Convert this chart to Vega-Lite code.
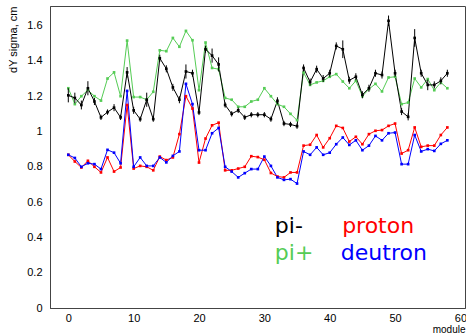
{
  "$schema": "https://vega.github.io/schema/vega-lite/v6.json",
  "width": 415,
  "height": 302,
  "autosize": "none",
  "padding": {"left": 50, "top": 6, "right": 1, "bottom": 27},
  "background": "white",
  "config": {
    "view": {"stroke": "#444", "strokeWidth": 1},
    "font": "Liberation Sans",
    "axis": {"grid": false, "domainColor": "#444", "tickColor": "#444", "labelColor": "#000", "titleColor": "#000", "labelFont": "Liberation Sans", "titleFont": "Liberation Sans", "labelFontSize": 11, "titleFontSize": 11, "titleFontWeight": "normal", "labelOverlap": false, "labelFlush": false}
  },
  "datasets": {
    "labels": [
      {"label": "pi-", "module": 31.6, "value": 0.423, "series": "pi-"},
      {"label": "pi+", "module": 31.6, "value": 0.272, "series": "pi+"},
      {"label": "proton", "module": 41.9, "value": 0.423, "series": "proton"},
      {"label": "deutron", "module": 41.7, "value": 0.272, "series": "deutron"}
    ],
    "pts": [
      {"series":"pi+","module":0,"value":1.245,"err":0.01},
      {"series":"pi+","module":1,"value":1.155,"err":0.01},
      {"series":"pi+","module":2,"value":1.2,"err":0.01},
      {"series":"pi+","module":3,"value":1.235,"err":0.01},
      {"series":"pi+","module":4,"value":1.2,"err":0.01},
      {"series":"pi+","module":5,"value":1.175,"err":0.01},
      {"series":"pi+","module":6,"value":1.3,"err":0.01},
      {"series":"pi+","module":7,"value":1.335,"err":0.01},
      {"series":"pi+","module":8,"value":1.2,"err":0.01},
      {"series":"pi+","module":9,"value":1.515,"err":0.01},
      {"series":"pi+","module":10,"value":1.195,"err":0.01},
      {"series":"pi+","module":11,"value":1.195,"err":0.01},
      {"series":"pi+","module":12,"value":1.18,"err":0.01},
      {"series":"pi+","module":13,"value":1.225,"err":0.01},
      {"series":"pi+","module":14,"value":1.46,"err":0.01},
      {"series":"pi+","module":15,"value":1.455,"err":0.01},
      {"series":"pi+","module":16,"value":1.53,"err":0.01},
      {"series":"pi+","module":17,"value":1.48,"err":0.01},
      {"series":"pi+","module":18,"value":1.57,"err":0.01},
      {"series":"pi+","module":19,"value":1.517,"err":0.01},
      {"series":"pi+","module":20,"value":1.234,"err":0.01},
      {"series":"pi+","module":21,"value":1.504,"err":0.01},
      {"series":"pi+","module":22,"value":1.36,"err":0.01},
      {"series":"pi+","module":23,"value":1.353,"err":0.01},
      {"series":"pi+","module":24,"value":1.19,"err":0.01},
      {"series":"pi+","module":25,"value":1.18,"err":0.01},
      {"series":"pi+","module":26,"value":1.14,"err":0.01},
      {"series":"pi+","module":27,"value":1.14,"err":0.01},
      {"series":"pi+","module":28,"value":1.17,"err":0.01},
      {"series":"pi+","module":29,"value":1.18,"err":0.01},
      {"series":"pi+","module":30,"value":1.245,"err":0.01},
      {"series":"pi+","module":31,"value":1.2,"err":0.01},
      {"series":"pi+","module":32,"value":1.155,"err":0.01},
      {"series":"pi+","module":33,"value":1.14,"err":0.01},
      {"series":"pi+","module":34,"value":1.1,"err":0.01},
      {"series":"pi+","module":35,"value":1.064,"err":0.01},
      {"series":"pi+","module":36,"value":1.334,"err":0.01},
      {"series":"pi+","module":37,"value":1.264,"err":0.01},
      {"series":"pi+","module":38,"value":1.278,"err":0.01},
      {"series":"pi+","module":39,"value":1.287,"err":0.01},
      {"series":"pi+","module":40,"value":1.31,"err":0.01},
      {"series":"pi+","module":41,"value":1.325,"err":0.01},
      {"series":"pi+","module":42,"value":1.283,"err":0.01},
      {"series":"pi+","module":43,"value":1.245,"err":0.01},
      {"series":"pi+","module":44,"value":1.287,"err":0.01},
      {"series":"pi+","module":45,"value":1.2,"err":0.01},
      {"series":"pi+","module":46,"value":1.24,"err":0.01},
      {"series":"pi+","module":47,"value":1.27,"err":0.01},
      {"series":"pi+","module":48,"value":1.227,"err":0.01},
      {"series":"pi+","module":49,"value":1.306,"err":0.01},
      {"series":"pi+","module":50,"value":1.31,"err":0.01},
      {"series":"pi+","module":51,"value":1.155,"err":0.01},
      {"series":"pi+","module":52,"value":1.164,"err":0.01},
      {"series":"pi+","module":53,"value":1.3,"err":0.01},
      {"series":"pi+","module":54,"value":1.25,"err":0.01},
      {"series":"pi+","module":55,"value":1.297,"err":0.01},
      {"series":"pi+","module":56,"value":1.234,"err":0.01},
      {"series":"pi+","module":57,"value":1.278,"err":0.01},
      {"series":"pi+","module":58,"value":1.245,"err":0.01},
      {"series":"pi-","module":0,"value":1.205,"err":0.04},
      {"series":"pi-","module":1,"value":1.19,"err":0.03},
      {"series":"pi-","module":2,"value":1.15,"err":0.025},
      {"series":"pi-","module":3,"value":1.245,"err":0.04},
      {"series":"pi-","module":4,"value":1.17,"err":0.02},
      {"series":"pi-","module":5,"value":1.08,"err":0.015},
      {"series":"pi-","module":6,"value":1.11,"err":0.015},
      {"series":"pi-","module":7,"value":1.135,"err":0.02},
      {"series":"pi-","module":8,"value":1.08,"err":0.015},
      {"series":"pi-","module":9,"value":1.335,"err":0.03},
      {"series":"pi-","module":10,"value":1.12,"err":0.02},
      {"series":"pi-","module":11,"value":1.07,"err":0.015},
      {"series":"pi-","module":12,"value":1.18,"err":0.04},
      {"series":"pi-","module":13,"value":1.07,"err":0.015},
      {"series":"pi-","module":14,"value":1.415,"err":0.02},
      {"series":"pi-","module":15,"value":1.355,"err":0.02},
      {"series":"pi-","module":16,"value":1.25,"err":0.02},
      {"series":"pi-","module":17,"value":1.18,"err":0.02},
      {"series":"pi-","module":18,"value":1.34,"err":0.04},
      {"series":"pi-","module":19,"value":1.33,"err":0.02},
      {"series":"pi-","module":20,"value":1.108,"err":0.015},
      {"series":"pi-","module":21,"value":1.466,"err":0.02},
      {"series":"pi-","module":22,"value":1.43,"err":0.04},
      {"series":"pi-","module":23,"value":1.38,"err":0.04},
      {"series":"pi-","module":24,"value":1.15,"err":0.015},
      {"series":"pi-","module":25,"value":1.1,"err":0.015},
      {"series":"pi-","module":26,"value":1.12,"err":0.015},
      {"series":"pi-","module":27,"value":1.08,"err":0.015},
      {"series":"pi-","module":28,"value":1.095,"err":0.015},
      {"series":"pi-","module":29,"value":1.095,"err":0.015},
      {"series":"pi-","module":30,"value":1.095,"err":0.015},
      {"series":"pi-","module":31,"value":1.07,"err":0.015},
      {"series":"pi-","module":32,"value":1.174,"err":0.02},
      {"series":"pi-","module":33,"value":1.045,"err":0.015},
      {"series":"pi-","module":34,"value":1.04,"err":0.015},
      {"series":"pi-","module":35,"value":1.03,"err":0.015},
      {"series":"pi-","module":36,"value":1.36,"err":0.02},
      {"series":"pi-","module":37,"value":1.28,"err":0.02},
      {"series":"pi-","module":38,"value":1.353,"err":0.02},
      {"series":"pi-","module":39,"value":1.3,"err":0.02},
      {"series":"pi-","module":40,"value":1.33,"err":0.02},
      {"series":"pi-","module":41,"value":1.485,"err":0.02},
      {"series":"pi-","module":42,"value":1.466,"err":0.05},
      {"series":"pi-","module":43,"value":1.29,"err":0.02},
      {"series":"pi-","module":44,"value":1.31,"err":0.02},
      {"series":"pi-","module":45,"value":1.208,"err":0.02},
      {"series":"pi-","module":46,"value":1.245,"err":0.02},
      {"series":"pi-","module":47,"value":1.33,"err":0.02},
      {"series":"pi-","module":48,"value":1.32,"err":0.02},
      {"series":"pi-","module":49,"value":1.627,"err":0.03},
      {"series":"pi-","module":50,"value":1.33,"err":0.02},
      {"series":"pi-","module":51,"value":1.113,"err":0.02},
      {"series":"pi-","module":52,"value":1.083,"err":0.02},
      {"series":"pi-","module":53,"value":1.53,"err":0.05},
      {"series":"pi-","module":54,"value":1.33,"err":0.02},
      {"series":"pi-","module":55,"value":1.264,"err":0.03},
      {"series":"pi-","module":56,"value":1.264,"err":0.02},
      {"series":"pi-","module":57,"value":1.287,"err":0.02},
      {"series":"pi-","module":58,"value":1.33,"err":0.02},
      {"series":"proton","module":0,"value":0.868,"err":0.005},
      {"series":"proton","module":1,"value":0.83,"err":0.005},
      {"series":"proton","module":2,"value":0.796,"err":0.005},
      {"series":"proton","module":3,"value":0.834,"err":0.005},
      {"series":"proton","module":4,"value":0.8,"err":0.005},
      {"series":"proton","module":5,"value":0.768,"err":0.005},
      {"series":"proton","module":6,"value":0.853,"err":0.005},
      {"series":"proton","module":7,"value":0.773,"err":0.005},
      {"series":"proton","module":8,"value":0.796,"err":0.005},
      {"series":"proton","module":9,"value":1.15,"err":0.005},
      {"series":"proton","module":10,"value":0.79,"err":0.005},
      {"series":"proton","module":11,"value":0.805,"err":0.005},
      {"series":"proton","module":12,"value":0.8,"err":0.005},
      {"series":"proton","module":13,"value":0.78,"err":0.005},
      {"series":"proton","module":14,"value":0.858,"err":0.005},
      {"series":"proton","module":15,"value":0.838,"err":0.005},
      {"series":"proton","module":16,"value":0.853,"err":0.005},
      {"series":"proton","module":17,"value":0.985,"err":0.005},
      {"series":"proton","module":18,"value":1.2,"err":0.005},
      {"series":"proton","module":19,"value":1.13,"err":0.005},
      {"series":"proton","module":20,"value":0.824,"err":0.005},
      {"series":"proton","module":21,"value":0.96,"err":0.005},
      {"series":"proton","module":22,"value":1.035,"err":0.005},
      {"series":"proton","module":23,"value":1.05,"err":0.005},
      {"series":"proton","module":24,"value":0.78,"err":0.005},
      {"series":"proton","module":25,"value":0.78,"err":0.005},
      {"series":"proton","module":26,"value":0.79,"err":0.005},
      {"series":"proton","module":27,"value":0.8,"err":0.005},
      {"series":"proton","module":28,"value":0.86,"err":0.005},
      {"series":"proton","module":29,"value":0.855,"err":0.005},
      {"series":"proton","module":30,"value":0.84,"err":0.005},
      {"series":"proton","module":31,"value":0.765,"err":0.005},
      {"series":"proton","module":32,"value":0.745,"err":0.005},
      {"series":"proton","module":33,"value":0.74,"err":0.005},
      {"series":"proton","module":34,"value":0.768,"err":0.005},
      {"series":"proton","module":35,"value":0.768,"err":0.005},
      {"series":"proton","module":36,"value":0.92,"err":0.005},
      {"series":"proton","module":37,"value":0.925,"err":0.005},
      {"series":"proton","module":38,"value":0.98,"err":0.005},
      {"series":"proton","module":39,"value":0.91,"err":0.005},
      {"series":"proton","module":40,"value":0.962,"err":0.005},
      {"series":"proton","module":41,"value":1.032,"err":0.005},
      {"series":"proton","module":42,"value":1.02,"err":0.005},
      {"series":"proton","module":43,"value":0.943,"err":0.005},
      {"series":"proton","module":44,"value":0.97,"err":0.005},
      {"series":"proton","module":45,"value":0.928,"err":0.005},
      {"series":"proton","module":46,"value":0.985,"err":0.005},
      {"series":"proton","module":47,"value":1.004,"err":0.005},
      {"series":"proton","module":48,"value":1.008,"err":0.005},
      {"series":"proton","module":49,"value":1.032,"err":0.005},
      {"series":"proton","module":50,"value":1.045,"err":0.005},
      {"series":"proton","module":51,"value":0.875,"err":0.005},
      {"series":"proton","module":52,"value":0.894,"err":0.005},
      {"series":"proton","module":53,"value":1.023,"err":0.005},
      {"series":"proton","module":54,"value":0.913,"err":0.005},
      {"series":"proton","module":55,"value":0.92,"err":0.005},
      {"series":"proton","module":56,"value":0.92,"err":0.005},
      {"series":"proton","module":57,"value":0.98,"err":0.005},
      {"series":"proton","module":58,"value":1.023,"err":0.005},
      {"series":"deutron","module":0,"value":0.868,"err":0.005},
      {"series":"deutron","module":1,"value":0.85,"err":0.005},
      {"series":"deutron","module":2,"value":0.8,"err":0.005},
      {"series":"deutron","module":3,"value":0.82,"err":0.005},
      {"series":"deutron","module":4,"value":0.815,"err":0.005},
      {"series":"deutron","module":5,"value":0.787,"err":0.005},
      {"series":"deutron","module":6,"value":0.896,"err":0.005},
      {"series":"deutron","module":7,"value":0.88,"err":0.005},
      {"series":"deutron","module":8,"value":0.82,"err":0.005},
      {"series":"deutron","module":9,"value":1.23,"err":0.005},
      {"series":"deutron","module":10,"value":0.8,"err":0.005},
      {"series":"deutron","module":11,"value":0.853,"err":0.005},
      {"series":"deutron","module":12,"value":0.805,"err":0.005},
      {"series":"deutron","module":13,"value":0.805,"err":0.005},
      {"series":"deutron","module":14,"value":0.853,"err":0.005},
      {"series":"deutron","module":15,"value":0.825,"err":0.005},
      {"series":"deutron","module":16,"value":0.862,"err":0.005},
      {"series":"deutron","module":17,"value":0.887,"err":0.005},
      {"series":"deutron","module":18,"value":1.27,"err":0.005},
      {"series":"deutron","module":19,"value":1.155,"err":0.005},
      {"series":"deutron","module":20,"value":0.894,"err":0.005},
      {"series":"deutron","module":21,"value":0.894,"err":0.005},
      {"series":"deutron","module":22,"value":0.99,"err":0.005},
      {"series":"deutron","module":23,"value":1.02,"err":0.005},
      {"series":"deutron","module":24,"value":0.8,"err":0.005},
      {"series":"deutron","module":25,"value":0.773,"err":0.005},
      {"series":"deutron","module":26,"value":0.74,"err":0.005},
      {"series":"deutron","module":27,"value":0.764,"err":0.005},
      {"series":"deutron","module":28,"value":0.787,"err":0.005},
      {"series":"deutron","module":29,"value":0.787,"err":0.005},
      {"series":"deutron","module":30,"value":0.858,"err":0.005},
      {"series":"deutron","module":31,"value":0.805,"err":0.005},
      {"series":"deutron","module":32,"value":0.74,"err":0.005},
      {"series":"deutron","module":33,"value":0.726,"err":0.005},
      {"series":"deutron","module":34,"value":0.73,"err":0.005},
      {"series":"deutron","module":35,"value":0.705,"err":0.005},
      {"series":"deutron","module":36,"value":0.887,"err":0.005},
      {"series":"deutron","module":37,"value":0.868,"err":0.005},
      {"series":"deutron","module":38,"value":0.91,"err":0.005},
      {"series":"deutron","module":39,"value":0.868,"err":0.005},
      {"series":"deutron","module":40,"value":0.88,"err":0.005},
      {"series":"deutron","module":41,"value":0.928,"err":0.005},
      {"series":"deutron","module":42,"value":0.966,"err":0.005},
      {"series":"deutron","module":43,"value":0.924,"err":0.005},
      {"series":"deutron","module":44,"value":0.95,"err":0.005},
      {"series":"deutron","module":45,"value":0.894,"err":0.005},
      {"series":"deutron","module":46,"value":0.92,"err":0.005},
      {"series":"deutron","module":47,"value":0.975,"err":0.005},
      {"series":"deutron","module":48,"value":0.95,"err":0.005},
      {"series":"deutron","module":49,"value":0.99,"err":0.005},
      {"series":"deutron","module":50,"value":0.994,"err":0.005},
      {"series":"deutron","module":51,"value":0.815,"err":0.005},
      {"series":"deutron","module":52,"value":0.815,"err":0.005},
      {"series":"deutron","module":53,"value":0.98,"err":0.005},
      {"series":"deutron","module":54,"value":0.887,"err":0.005},
      {"series":"deutron","module":55,"value":0.9,"err":0.005},
      {"series":"deutron","module":56,"value":0.89,"err":0.005},
      {"series":"deutron","module":57,"value":0.93,"err":0.005},
      {"series":"deutron","module":58,"value":0.95,"err":0.005}
    ]
  },
  "encoding": {
    "x": {"field": "module", "type": "quantitative",
      "scale": {"domain": [-2.8, 60.7], "nice": false, "zero": false},
      "axis": {"title": "module", "titleAnchor": "end", "titleBaseline": "middle", "titleY": 21, "titleFontSize": 10,
        "values": [-2,0,2,4,6,8,10,12,14,16,18,20,22,24,26,28,30,32,34,36,38,40,42,44,46,48,50,52,54,56,58,60],
        "tickSize": 0, "labelPadding": 4,
        "labelExpr": "datum.value % 10 == 0 ? format(datum.value, 'd') : ''",
        "encode": {
          "ticks": {"update": {"y2": {"signal": "datum.value % 10 == 0 ? -9 : -4.5"}}},
          "labels": {"update": {"dx": {"signal": "datum.value == 60 ? -1.5 : 0"}}}
        }}},
    "y": {"field": "value", "type": "quantitative",
      "scale": {"domain": [0, 1.711], "nice": false},
      "axis": {"title": "dY sigma, cm", "titleAnchor": "end", "titlePadding": 8,
        "values": [0,0.04,0.08,0.12,0.16,0.2,0.24,0.28,0.32,0.36,0.4,0.44,0.48,0.52,0.56,0.6,0.64,0.68,0.72,0.76,0.8,0.84,0.88,0.92,0.96,1,1.04,1.08,1.12,1.16,1.2,1.24,1.28,1.32,1.36,1.4,1.44,1.48,1.52,1.56,1.6,1.64,1.68],
        "tickSize": 0, "labelPadding": 8,
        "labelExpr": "abs(datum.value*5 - round(datum.value*5)) < 0.000001 ? format(datum.value, '.2~f') : ''",
        "encode": {"ticks": {"update": {"x2": {"signal": "abs(datum.value*5 - round(datum.value*5)) < 0.000001 ? 9 : 4.5"}}}}}}
  },
  "layer": [
    {
      "data": {"name": "pts"},
      "mark": {"type": "line", "strokeWidth": 1, "point": {"shape": "square", "size": 7, "filled": true}},
      "encoding": {
        "color": {"field": "series", "type": "nominal", "legend": null,
          "scale": {"domain": ["pi+", "pi-", "proton", "deutron"], "range": ["#55cc55", "#000000", "#ff0000", "#0000ff"]}}
      }
    },
    {
      "data": {"name": "pts"},
      "transform": [{"filter": "datum.series == 'pi-'"}],
      "mark": {"type": "errorbar", "color": "#000000", "thickness": 1},
      "encoding": {
        "yError": {"field": "err"}
      }
    },
    {
      "data": {"name": "labels"},
      "mark": {"type": "text", "align": "left", "baseline": "alphabetic", "font": "DejaVu Sans", "fontSize": 22},
      "encoding": {
        "text": {"field": "label"},
        "color": {"field": "series", "type": "nominal", "legend": null}
      }
    }
  ]
}
